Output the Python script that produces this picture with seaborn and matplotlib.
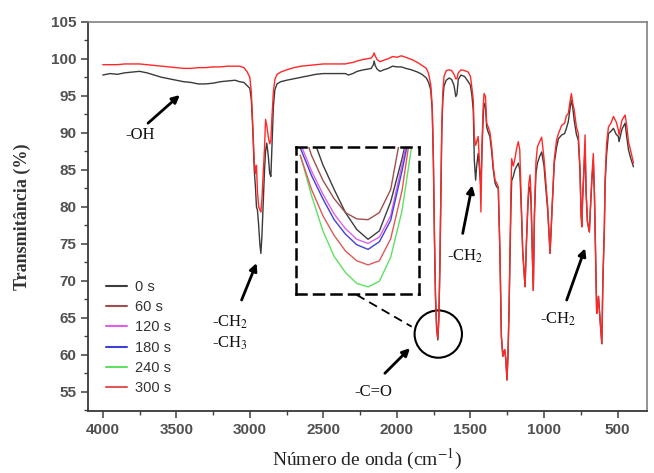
import matplotlib
matplotlib.use("Agg")
import matplotlib.pyplot as plt
import seaborn as sns
from matplotlib.patches import Ellipse
from matplotlib.lines import Line2D
from matplotlib.ticker import MultipleLocator

# Spectrum values (wavenumber in cm-1, transmittance in %)
wavenumber = [
    4000, 3950, 3900, 3850, 3800, 3750, 3700, 3650, 3600, 3550, 3500, 3450, 3400,
    3350, 3300, 3250, 3200, 3150, 3100, 3070, 3040, 3020, 3000, 2990, 2980, 2970,
    2962, 2955, 2948, 2940, 2932, 2925, 2918, 2910, 2900, 2893, 2885, 2875, 2865,
    2857, 2850, 2840, 2830, 2815, 2790, 2750, 2700, 2650, 2600, 2550, 2500, 2450,
    2400, 2350, 2330, 2300, 2270, 2230, 2200, 2175, 2160, 2155, 2148, 2135, 2115,
    2090, 2060, 2030, 2000, 1970, 1940, 1900, 1860, 1830, 1800, 1785, 1770, 1760,
    1752, 1745, 1738, 1730, 1722, 1715, 1708, 1700, 1695, 1688, 1680, 1665, 1645,
    1628, 1612, 1600, 1592, 1583, 1565, 1540, 1515, 1500, 1490, 1481, 1474, 1465,
    1458, 1448, 1440, 1435, 1429, 1422, 1415, 1408, 1398, 1390, 1380, 1368, 1356,
    1345, 1333, 1322, 1311, 1300, 1290, 1280, 1268, 1260, 1252, 1245, 1238, 1231,
    1225, 1220, 1209, 1198, 1185, 1175, 1165, 1155, 1145, 1129, 1120, 1110, 1103,
    1095, 1088, 1080, 1073, 1065, 1055, 1045, 1030, 1016, 1000, 990, 975, 959,
    945, 930, 915, 902, 880, 860, 848, 835, 825, 814, 805, 795, 780, 767, 756,
    748, 743, 738, 731, 721, 714, 705, 692, 685, 675, 665, 657, 649, 642, 636,
    630, 619, 607, 600, 590, 585, 575, 562, 545, 528, 510, 495, 490, 470, 449,
    438, 426, 410, 392,
]
trans_300s = [
    99.2, 99.2, 99.2, 99.3, 99.3, 99.3, 99.2, 99.1, 99.0, 98.9, 98.8, 98.7, 98.7,
    98.8, 98.8, 98.9, 98.9, 99.0, 99.0, 99.0, 98.8, 98.3, 97.5, 95.5, 91.0, 86.0,
    84.5, 85.6, 82.0, 80.0, 79.6, 79.3, 81.0, 84.0, 88.0, 91.8, 91.0, 89.5, 88.5,
    89.0, 92.0, 95.5, 97.2, 97.9, 98.2, 98.5, 98.8, 99.0, 99.1, 99.2, 99.3, 99.3,
    99.3, 99.3, 99.4, 99.5, 99.7, 99.9, 100.0, 100.1, 100.5, 100.8, 100.4, 99.9, 99.6,
    99.8, 100.0, 100.3, 100.2, 100.4, 100.2, 99.9, 99.5, 99.1, 98.7, 98.0, 96.5, 93.5,
    86.0, 76.0, 68.0, 63.5, 62.2, 65.0, 72.0, 84.0, 91.0, 95.5, 97.6, 98.4, 98.5,
    98.4, 97.9, 97.3, 97.3, 98.1, 98.5, 98.4, 98.2, 97.6, 96.0, 94.4, 89.5, 88.3,
    88.8, 89.5, 86.5, 84.5, 79.3, 88.0, 93.0, 95.3, 94.9, 91.3, 90.8, 90.1, 88.1,
    85.4, 83.6, 83.2, 82.7, 74.0, 62.5, 59.8, 60.7, 59.5, 56.6, 60.0, 66.0, 74.6,
    82.0, 86.5, 85.5, 86.5, 88.0, 88.8, 87.7, 81.0, 74.0, 69.2, 75.0, 80.5, 83.2,
    84.3, 81.4, 74.0, 68.7, 79.1, 86.0, 88.1, 88.8, 89.4, 86.5, 84.0, 80.0, 73.7,
    80.0, 86.5, 89.0, 89.9, 91.0, 91.3, 92.3, 92.6, 94.0, 95.3, 94.0, 93.1, 90.8, 89.9, 85.5,
    79.0, 77.3, 81.0, 84.1, 89.7, 82.0, 78.0, 76.6, 79.6, 84.0, 87.2, 81.4, 73.0, 65.6, 66.5,
    67.9, 64.7, 61.5, 70.0, 77.0, 83.6, 88.5, 90.8, 91.3, 92.2, 91.5, 90.4, 89.7, 91.7, 92.4,
    91.0, 88.8, 87.5, 85.9,
]
trans_0s = [
    97.8, 98.0, 97.9, 98.1, 98.2, 98.3, 98.1, 97.8, 97.5, 97.3, 97.1, 96.9, 96.8,
    96.6, 96.6, 96.7, 96.9, 97.0, 97.1, 96.9, 96.8, 96.4, 96.0, 94.5, 90.5, 85.0,
    82.7, 80.0, 79.5, 77.5, 75.0, 73.7, 76.0, 80.0, 85.0, 87.5, 88.6, 87.0, 84.5,
    84.1, 88.0, 93.5, 95.8, 96.6, 96.9, 97.1, 97.3, 97.5, 97.7, 97.9, 98.0, 98.0,
    98.0, 98.0, 97.8, 98.0, 98.3, 98.5, 98.6, 98.7, 99.2, 99.7, 99.1, 98.6, 98.3,
    98.5, 98.7, 99.0, 98.9, 98.9, 98.7, 98.5, 98.2, 97.9, 97.4, 96.8, 95.8, 93.0,
    86.0, 76.0, 68.0, 63.5, 62.0, 65.0, 72.0, 84.0, 90.5, 94.5, 96.3, 97.1, 97.4,
    97.2, 96.4, 94.9, 95.2, 97.2, 97.8, 97.6, 96.9, 96.4, 95.0, 93.0, 86.3, 83.6,
    85.5, 87.2, 85.5, 84.0, 82.7, 87.5, 91.5, 94.0, 93.5, 90.8, 90.1, 89.5, 87.5,
    85.0, 83.2, 82.7, 82.5, 74.0, 62.5, 59.8, 60.7, 59.5, 56.6, 60.0, 66.0, 74.0,
    80.0, 83.5, 84.1, 85.0, 85.5, 85.9, 85.0, 80.0, 74.0, 69.2, 75.0, 80.0, 82.3,
    82.7, 80.5, 74.0, 68.7, 79.1, 84.5, 85.9, 86.8, 87.4, 85.5, 83.0, 79.5, 73.7,
    80.0, 86.0, 88.0, 89.2, 89.7, 89.9, 90.6, 91.5, 93.0, 94.4, 93.5, 91.7, 89.8, 89.0, 85.0,
    79.0, 77.3, 81.0, 84.0, 88.1, 82.0, 78.0, 76.6, 79.6, 83.5, 86.3, 81.4, 73.0, 65.6, 66.5,
    67.9, 64.7, 61.5, 70.0, 77.0, 83.0, 87.0, 89.9, 90.2, 90.6, 89.8, 89.5, 88.8, 90.5, 91.3,
    89.5, 87.7, 86.5, 85.4,
]

# Inset: zoom on the C=O band for every exposure time
inset_wn = [1740, 1736, 1732, 1728, 1724, 1720, 1716, 1712, 1708, 1704, 1700]
inset_0s = [68.08, 67.18, 66.05, 65.14, 64.29, 63.67, 63.31, 63.62, 64.69, 66.27, 68.08]
inset_60s = [67.63, 66.39, 65.48, 64.80, 64.29, 64.06, 64.03, 64.29, 65.14, 67.40, 68.76]
inset_120s = [66.84, 65.82, 64.97, 64.24, 63.70, 63.31, 63.16, 63.39, 64.18, 66.05, 68.08]
inset_180s = [66.67, 65.65, 64.80, 64.03, 63.50, 63.11, 62.94, 63.22, 64.01, 65.82, 67.86]
inset_240s = [66.41, 64.92, 63.62, 62.68, 62.09, 61.69, 61.56, 61.77, 62.65, 64.35, 67.13]
inset_300s = [66.39, 65.14, 64.18, 63.45, 62.88, 62.52, 62.37, 62.52, 63.33, 65.09, 67.91]

series_labels = ["0 s", "60 s", "120 s", "180 s", "240 s", "300 s"]
series_colors = ["#3c3c3c", "#a0504c", "#e060e8", "#4040d8", "#60e060", "#e05858"]
inset_series = [inset_0s, inset_60s, inset_120s, inset_180s, inset_240s, inset_300s]

sns.set_theme(style="ticks")
plt.rcParams["font.family"] = ["Liberation Sans", "DejaVu Sans"]
plt.rcParams["mathtext.fontset"] = "stix"

fig = plt.figure(figsize=(6.54, 4.73), dpi=100)
ax = fig.add_axes([0.1346, 0.131, 0.8547, 0.823])

sns.lineplot(x=wavenumber, y=trans_0s, ax=ax, color="#3a3a3a", lw=1.0, sort=False, estimator=None)
sns.lineplot(x=wavenumber, y=trans_300s, ax=ax, color="#ff2828", lw=1.0, sort=False, estimator=None)

ax.set_xlim(4100, 300)
ax.set_ylim(52.4, 105)
ax.set_xticks([4000, 3500, 3000, 2500, 2000, 1500, 1000, 500])
ax.set_yticks(range(55, 106, 5))
ax.xaxis.set_minor_locator(MultipleLocator(250))
ax.yaxis.set_minor_locator(MultipleLocator(2.5))
ax.tick_params(which="major", direction="out", length=5, width=1.1, color="#404040",
               labelsize=11, labelcolor="#505050")
ax.tick_params(which="minor", direction="out", length=3, width=1.0, color="#404040")
for lab in ax.get_xticklabels() + ax.get_yticklabels():
    lab.set_fontweight("bold")
for side in ["left", "bottom"]:
    ax.spines[side].set_color("#383838")
    ax.spines[side].set_linewidth(1.3)
for side in ["top", "right"]:
    ax.spines[side].set_visible(True)
    ax.spines[side].set_color("#808080")
    ax.spines[side].set_linewidth(1.2)

ax.set_xlabel("Número de onda (cm$^{\\mathrm{-1}}$)", family="Liberation Serif",
              fontsize=14, color="#222222", labelpad=7)
ax.set_ylabel("Transmitância (%)", family="Liberation Serif", fontsize=13,
              fontweight="bold", color="#333333", labelpad=14)

# Legend
handles = [Line2D([], [], color=c, lw=1.5) for c in series_colors]
ax.legend(handles, series_labels, loc="upper left", bbox_to_anchor=(0.032, 0.337),
          frameon=False, borderpad=0, borderaxespad=0, handlelength=1.45,
          handletextpad=0.55, labelspacing=0.43, fontsize=10.5, labelcolor="#333333")

# Annotations
serif = dict(family="Liberation Serif", fontsize=12, color="#111111")
arrow = dict(arrowstyle="-|>", lw=2.0, color="black", mutation_scale=11, shrinkA=0, shrinkB=0)
ax.text(3748, 89.7, "-OH", ha="center", va="center", **serif)
ax.annotate("", xy=(3476, 95.1), xytext=(3692, 91.3), arrowprops=arrow)
ax.text(3136, 63.0, "-CH$_2$\n-CH$_3$", ha="center", va="center", linespacing=1.3, **serif)
ax.annotate("", xy=(2954, 72.4), xytext=(3056, 67.4), arrowprops=arrow)
ax.text(1537, 73.3, "-CH$_2$", ha="center", va="center", **serif)
ax.annotate("", xy=(1488, 82.9), xytext=(1553, 76.4), arrowprops=arrow)
ax.text(905, 64.8, "-CH$_2$", ha="center", va="center", **serif)
ax.annotate("", xy=(721, 74.4), xytext=(846, 67.4), arrowprops=arrow)
ax.text(2163, 55.0, "-C=O", ha="center", va="center", **serif)
ax.annotate("", xy=(1911, 60.9), xytext=(2082, 57.5), arrowprops=arrow)
ax.add_patch(Ellipse((1719, 62.8), 322, 6.39, fill=False, lw=1.5, color="black"))
ax.plot([2274, 1900], [68.1, 63.8], color="black", lw=1.3, ls=(0, (5, 3)))

# Inset with all exposure times
axin = fig.add_axes([0.4526, 0.3784, 0.188, 0.3108])
for vals, lab, col in zip(inset_series, series_labels, series_colors):
    sns.lineplot(x=inset_wn, y=vals, ax=axin, color=col, lw=1.0, sort=False, estimator=None)
axin.set_xlim(1741.5, 1698)
axin.set_ylim(61.3, 66.7)
axin.set_xticks([])
axin.set_yticks([])
axin.set_xlabel("")
axin.set_ylabel("")
for sp in axin.spines.values():
    sp.set_visible(True)
    sp.set_color("black")
    sp.set_linewidth(1.8)
    sp.set_linestyle((0, (4, 3)))

fig.savefig("out.png", dpi=100)
